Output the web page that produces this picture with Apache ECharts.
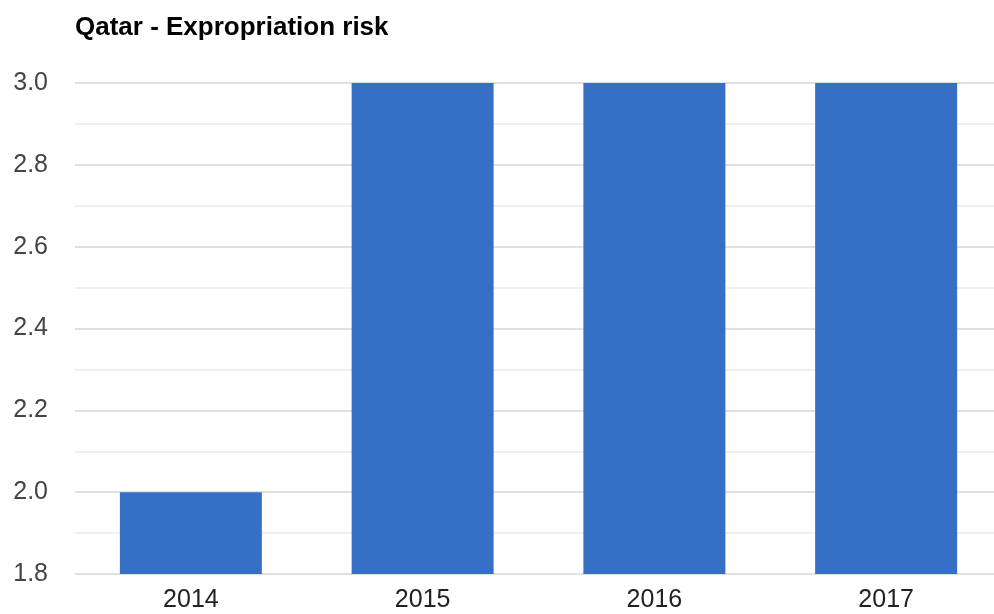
<!DOCTYPE html>
<html>
<head>
<meta charset="utf-8">
<script src="https://cdn.jsdelivr.net/npm/echarts@6/dist/echarts.min.js"></script>
<style>
html,body{margin:0;padding:0;background:#fff;}
#chart{width:994px;height:614px;}
</style>
</head>
<body>
<div id="chart"></div>
<script>
const titleText = "Qatar - Expropriation risk";
const categories = ["2014", "2015", "2016", "2017"];
const values = [2.0, 3.0, 3.0, 3.0];
const yMin = 1.8, yMax = 3.0, yInterval = 0.2;

const chart = echarts.init(document.getElementById('chart'));
chart.setOption({
  animation: false,
  title: {
    text: titleText,
    left: 70,
    top: 10,
    textStyle: {fontFamily: 'Liberation Sans, Arial, sans-serif', fontWeight: 'bold', fontSize: 26, color: '#000'}
  },
  grid: {left: 75, right: -8, top: 83, bottom: 40, outerBoundsMode: 'none', containLabel: false},
  xAxis: {
    type: 'category',
    data: categories,
    axisLine: {show: false},
    axisTick: {show: false},
    axisLabel: {fontFamily: 'Liberation Sans, Arial, sans-serif', fontSize: 25, color: '#222', margin: 14}
  },
  yAxis: {
    type: 'value',
    min: yMin, max: yMax, interval: yInterval,
    axisLine: {show: false},
    axisTick: {show: false},
    axisLabel: {fontFamily: 'Liberation Sans, Arial, sans-serif', fontSize: 25, color: '#444', margin: 27,
      formatter: v => v.toFixed(1)},
    splitLine: {show: true, lineStyle: {color: '#e0e0e0', width: 2}},
    minorTick: {show: false, splitNumber: 2},
    minorSplitLine: {show: true, lineStyle: {color: '#efefef', width: 2}}
  },
  series: [{
    type: 'bar',
    data: values,
    barWidth: 142,
    itemStyle: {color: '#3670c6'}
  }]
});
</script>
</body>
</html>
